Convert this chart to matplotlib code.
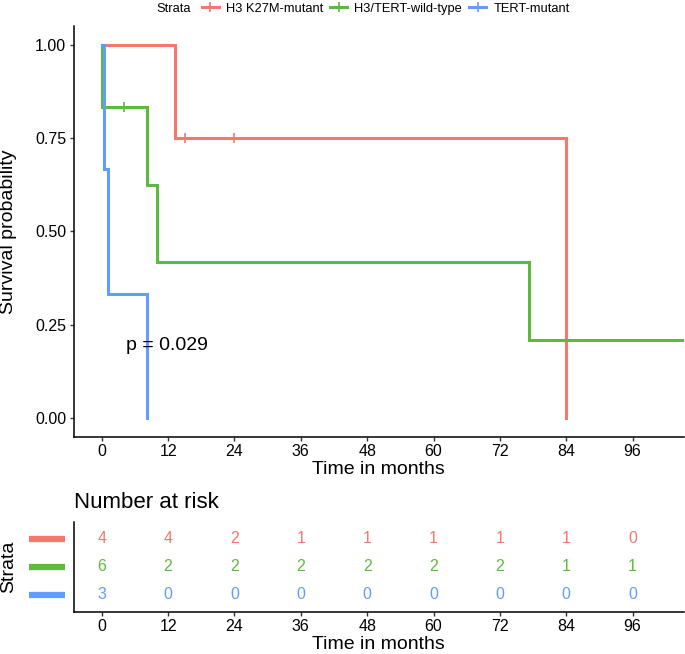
import numpy as np
import matplotlib
matplotlib.use("Agg")
from matplotlib import pyplot as plt
from matplotlib.lines import Line2D
import matplotlib.transforms as mtransforms

plt.rcParams["font.family"] = ["Liberation Sans", "DejaVu Sans"]

# strata and colours
strata = ["H3 K27M-mutant", "H3/TERT-wild-type", "TERT-mutant"]
colors = ["#F8766D", "#5DBB3C", "#619CFF"]

# Kaplan-Meier step curves (time in months, survival)
red_t = [0, 13.2, 84.0]
red_s = [1.0, 0.75, 0.0]
green_t = [0, 0.13, 8.1, 10.0, 77.2, 106.0]
green_s = [1.0, 0.833, 0.625, 0.417, 0.208, 0.208]
blue_t = [0, 0.5, 1.1, 8.1]
blue_s = [1.0, 0.667, 0.333, 0.0]

# censoring marks
red_cens_t = [15.0, 24.0]
red_cens_s = [0.75, 0.75]
green_cens_t = [4.0]
green_cens_s = [0.833]

# number at risk table
risk_times = [0, 12, 24, 36, 48, 60, 72, 84, 96]
risk_red = [4, 4, 2, 1, 1, 1, 1, 1, 0]
risk_green = [6, 2, 2, 2, 2, 2, 2, 1, 1]
risk_blue = [3, 0, 0, 0, 0, 0, 0, 0, 0]

pval_text = "p = 0.029"
xticks = [0, 12, 24, 36, 48, 60, 72, 84, 96]
yticks = [0.0, 0.25, 0.50, 0.75, 1.00]

W, H = 685, 654
fig = plt.figure(figsize=(W / 100, H / 100), dpi=100)

def box(l, t, r, b):
    return [l / W, 1 - b / H, (r - l) / W, (b - t) / H]

ax = fig.add_axes(box(74, 26.4, 683.5, 436.5))
axr = fig.add_axes(box(74, 521.7, 683.5, 611.7))

lw = 2.2
curves = [(red_t, red_s), (green_t, green_s), (blue_t, blue_s)]
for (t, s), c in zip(curves, colors):
    ax.step(t, s, where="post", color=c, lw=lw, solid_joinstyle="miter")
ax.plot(red_cens_t, red_cens_s, ls="none", marker="|", ms=7, mew=1.2, color=colors[0])
ax.plot(green_cens_t, green_cens_s, ls="none", marker="|", ms=7, mew=1.2, color=colors[1])

xlim = (-5.01, 105.2)
ax.set_xlim(*xlim)
ax.set_ylim(-0.05, 1.05)
ax.set_xticks(xticks)
ax.set_yticks(yticks)
ax.set_yticklabels(["%.2f" % v for v in yticks])
ax.text(4.34, 0.195, pval_text, fontsize=14, ha="left", va="center")

for a in (ax, axr):
    for sp in ("top", "right"):
        a.spines[sp].set_visible(False)
    for sp in ("left", "bottom"):
        a.spines[sp].set_linewidth(1.1)
    a.tick_params(length=3, width=1.0, labelsize=11.5, pad=2.5, color="#333333")

ax.set_xlabel("Time in months", fontsize=14, labelpad=1)
ax.set_ylabel("Survival probability", fontsize=14)
ax.yaxis.set_label_coords(-0.094, 0.5)

# legend on top
handles = [Line2D([], [], color=c, lw=lw, marker="|", ms=7, mew=1.2) for c in colors]
fig.legend(handles, strata, loc="center left", bbox_to_anchor=(202 / W, 1 - 8.5 / H),
           ncol=3, frameon=False, fontsize=9.3, borderpad=0, borderaxespad=0,
           handlelength=1.31, handletextpad=0.55, columnspacing=0.55)
fig.text(156 / W, 1 - 8.5 / H, "Strata", fontsize=9.3, ha="left", va="center")

# risk table
rows = [risk_red, risk_green, risk_blue]
ypos = [3, 2, 1]
for vals, y, c in zip(rows, ypos, colors):
    for t, v in zip(risk_times, vals):
        axr.text(t, y, str(v), color=c, fontsize=11.5, ha="center", va="center")
axr.set_xlim(*xlim)
axr.set_ylim(0.4, 3.6)
axr.set_xticks(xticks)
axr.set_yticks([])
axr.set_xlabel("Time in months", fontsize=14, labelpad=1)
axr.set_ylabel("Strata", fontsize=14)
axr.yaxis.set_label_coords(-0.094, 0.5)
axr.text(0, 1 + (521.7 - 503) / 90, "Number at risk", transform=axr.transAxes,
         fontsize=16, ha="left", va="center")

trans = mtransforms.blended_transform_factory(fig.transFigure, axr.transData)
for y, c in zip(ypos, colors):
    axr.add_line(Line2D([29 / W, 65 / W], [y, y], transform=trans, color=c, lw=4.5,
                        solid_capstyle="butt", clip_on=False))

fig.savefig("out.png", dpi=100)
